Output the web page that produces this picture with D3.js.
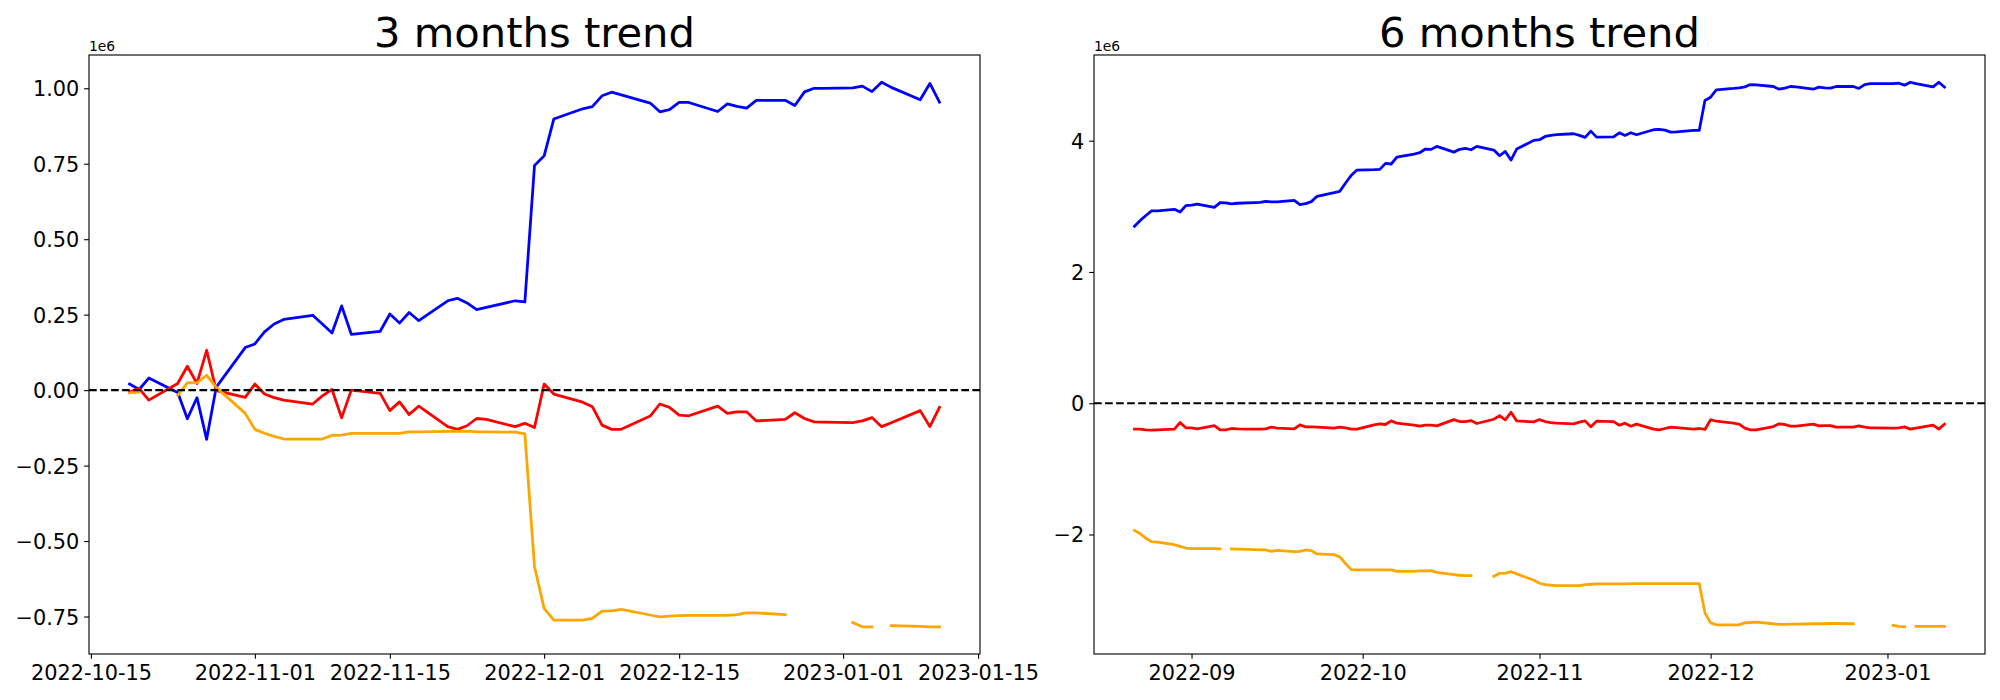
<!DOCTYPE html>
<html><head><meta charset="utf-8">
<script src="https://cdn.jsdelivr.net/npm/d3@7"></script>
<style>body{margin:0;background:#fff}</style>
</head><body><svg id="c" width="2000" height="700"></svg>
<script>
// ---------- DATA (values in units of 1e6) ----------
const titles = ["3 months trend", "6 months trend"];
const seriesColors = ["blue", "red", "orange"];
const offsetLabel = "1e6";

const leftDates = [
 "2022-10-19","2022-10-20","2022-10-21","2022-10-24","2022-10-25","2022-10-26","2022-10-27","2022-10-28","2022-10-31",
 "2022-11-01","2022-11-02","2022-11-03","2022-11-04","2022-11-07","2022-11-08","2022-11-09","2022-11-10","2022-11-11","2022-11-14","2022-11-15","2022-11-16","2022-11-17","2022-11-18","2022-11-21","2022-11-22","2022-11-23","2022-11-24","2022-11-25","2022-11-28","2022-11-29","2022-11-30",
 "2022-12-01","2022-12-02","2022-12-05","2022-12-06","2022-12-07","2022-12-08","2022-12-09","2022-12-12","2022-12-13","2022-12-14","2022-12-15","2022-12-16","2022-12-19","2022-12-20","2022-12-21","2022-12-22","2022-12-23","2022-12-26","2022-12-27","2022-12-28","2022-12-29","2022-12-30",
 "2023-01-02","2023-01-03","2023-01-04","2023-01-05","2023-01-06","2023-01-09","2023-01-10","2023-01-11"];
const leftBlue = [
 0.020,0.002,0.040,-0.008,-0.095,-0.025,-0.163,0.010,0.141,
 0.153,0.193,0.219,0.234,0.248,0.219,0.189,0.279,0.185,0.195,0.252,0.222,0.257,0.230,0.296,0.304,0.289,0.267,0.274,0.296,0.292,0.744,
 0.776,0.898,0.932,0.939,0.975,0.987,0.978,0.951,0.922,0.929,0.953,0.953,0.923,0.948,0.940,0.934,0.960,0.960,0.943,0.988,1.000,1.000,
 1.001,1.007,0.989,1.020,1.003,0.962,1.016,0.954];
const leftRed = [
 -0.006,0.006,-0.033,0.022,0.079,0.022,0.132,-0.002,-0.024,
 0.020,-0.013,-0.025,-0.033,-0.046,-0.019,0.002,-0.092,0.000,-0.011,-0.068,-0.039,-0.081,-0.053,-0.121,-0.130,-0.118,-0.094,-0.097,-0.121,-0.110,-0.124,
 0.020,-0.013,-0.040,-0.055,-0.116,-0.130,-0.130,-0.086,-0.046,-0.057,-0.083,-0.085,-0.053,-0.077,-0.072,-0.072,-0.102,-0.097,-0.075,-0.094,-0.105,-0.106,
 -0.108,-0.102,-0.091,-0.121,-0.108,-0.068,-0.121,-0.057];
const leftOrange = [
 -0.009,-0.007,null,-0.017,0.024,0.025,0.049,0.009,-0.077,
 -0.130,-0.143,-0.153,-0.162,-0.162,-0.162,-0.150,-0.149,-0.143,-0.143,-0.143,-0.143,-0.138,-0.138,-0.137,-0.137,-0.136,-0.138,-0.138,-0.139,-0.145,-0.585,
 -0.723,-0.762,-0.762,-0.756,-0.732,-0.731,-0.726,-0.745,-0.751,-0.749,-0.747,-0.746,-0.746,-0.746,-0.744,-0.738,-0.738,-0.744,null,null,null,null,
 -0.770,-0.784,-0.784,null,-0.780,-0.783,-0.784,-0.784];

const rightDates = [
 "2022-08-22","2022-08-23","2022-08-24","2022-08-25","2022-08-26","2022-08-29","2022-08-30","2022-08-31",
 "2022-09-01","2022-09-02","2022-09-05","2022-09-06","2022-09-07","2022-09-08","2022-09-09","2022-09-12","2022-09-13","2022-09-14","2022-09-15","2022-09-16","2022-09-19","2022-09-20","2022-09-21","2022-09-22","2022-09-23","2022-09-26","2022-09-27","2022-09-28","2022-09-29","2022-09-30",
 "2022-10-03","2022-10-04","2022-10-05","2022-10-06","2022-10-07","2022-10-10","2022-10-11","2022-10-12","2022-10-13","2022-10-14","2022-10-17","2022-10-18","2022-10-19","2022-10-20","2022-10-21","2022-10-24","2022-10-25","2022-10-26","2022-10-27","2022-10-28","2022-10-31",
 "2022-11-01","2022-11-02","2022-11-03","2022-11-04","2022-11-07","2022-11-08","2022-11-09","2022-11-10","2022-11-11","2022-11-14","2022-11-15","2022-11-16","2022-11-17","2022-11-18","2022-11-21","2022-11-22","2022-11-23","2022-11-24","2022-11-25","2022-11-28","2022-11-29","2022-11-30",
 "2022-12-01","2022-12-02","2022-12-05","2022-12-06","2022-12-07","2022-12-08","2022-12-09","2022-12-12","2022-12-13","2022-12-14","2022-12-15","2022-12-16","2022-12-19","2022-12-20","2022-12-21","2022-12-22","2022-12-23","2022-12-26","2022-12-27","2022-12-28","2022-12-29","2022-12-30",
 "2023-01-02","2023-01-03","2023-01-04","2023-01-05","2023-01-06","2023-01-09","2023-01-10","2023-01-11"];
const rightBlue = [
 2.696,2.785,2.860,2.930,2.930,2.955,2.914,3.011,
 3.020,3.035,2.985,3.057,3.052,3.037,3.047,3.057,3.062,3.077,3.067,3.067,3.092,3.026,3.041,3.072,3.153,3.208,3.229,3.355,3.472,3.553,
 3.558,3.563,3.655,3.645,3.751,3.796,3.817,3.873,3.868,3.913,3.826,3.868,3.883,3.862,3.913,3.857,3.771,3.837,3.705,3.873,4.005,
 4.015,4.065,4.081,4.091,4.106,4.081,4.050,4.146,4.055,4.060,4.121,4.081,4.121,4.091,4.167,4.172,4.162,4.131,4.136,4.157,4.157,4.613,
 4.663,4.776,4.796,4.806,4.820,4.856,4.851,4.826,4.785,4.800,4.826,4.820,4.785,4.816,4.806,4.800,4.826,4.826,4.796,4.856,4.870,4.870,
 4.870,4.876,4.846,4.891,4.870,4.820,4.891,4.816];
const rightRed = [
 -0.395,-0.395,-0.405,-0.410,-0.405,-0.395,-0.294,-0.375,
 -0.375,-0.390,-0.340,-0.405,-0.405,-0.385,-0.390,-0.395,-0.395,-0.390,-0.365,-0.380,-0.390,-0.329,-0.360,-0.360,-0.365,-0.380,-0.365,-0.375,-0.395,-0.395,
 -0.329,-0.314,-0.324,-0.269,-0.304,-0.335,-0.350,-0.335,-0.335,-0.345,-0.249,-0.279,-0.279,-0.264,-0.309,-0.244,-0.188,-0.254,-0.137,-0.269,-0.284,
 -0.249,-0.279,-0.294,-0.304,-0.314,-0.289,-0.269,-0.360,-0.274,-0.279,-0.335,-0.304,-0.350,-0.319,-0.395,-0.405,-0.385,-0.365,-0.370,-0.395,-0.385,-0.400,
 -0.249,-0.274,-0.304,-0.319,-0.380,-0.405,-0.405,-0.355,-0.314,-0.324,-0.350,-0.350,-0.319,-0.345,-0.340,-0.340,-0.365,-0.365,-0.345,-0.365,-0.375,-0.375,
 -0.380,-0.375,-0.360,-0.395,-0.380,-0.335,-0.395,-0.319];
const rightOrange = [
 -1.937,-1.988,-2.059,-2.110,-2.115,-2.156,-2.180,-2.206,
 -2.216,-2.216,-2.216,-2.220,null,-2.221,-2.224,-2.231,-2.236,-2.236,-2.256,-2.241,-2.261,-2.256,-2.236,-2.246,-2.297,-2.307,-2.342,-2.444,-2.535,-2.540,
 -2.540,-2.540,-2.540,-2.540,-2.561,-2.561,-2.556,-2.556,-2.551,-2.576,-2.611,-2.621,-2.627,-2.627,null,-2.637,-2.591,-2.591,-2.566,-2.600,-2.698,
 -2.743,-2.763,-2.770,-2.779,-2.779,-2.779,-2.763,-2.758,-2.753,-2.753,-2.753,-2.753,-2.748,-2.748,-2.748,-2.748,-2.748,-2.748,-2.748,-2.748,-2.748,-3.194,
 -3.346,-3.376,-3.376,-3.376,-3.346,-3.341,-3.336,-3.360,-3.371,-3.371,-3.366,-3.366,-3.360,-3.360,-3.360,-3.356,-3.356,-3.360,null,null,null,null,
 -3.386,-3.401,-3.406,null,-3.401,-3.401,-3.401,-3.401];

const leftXTicks = ["2022-10-15","2022-11-01","2022-11-15","2022-12-01","2022-12-15","2023-01-01","2023-01-15"];
const rightXTicks = ["2022-09-01","2022-10-01","2022-11-01","2022-12-01","2023-01-01"];
const leftYTicks = [-0.75,-0.50,-0.25,0.00,0.25,0.50,0.75,1.00];
const rightYTicks = [-2,0,2,4];

// ---------- DRAWING ----------
const FONT = "'DejaVu Sans', sans-serif";
const PT = 100/72;
const svg = d3.select("#c");
svg.append("rect").attr("width",2000).attr("height",700).attr("fill","#fff");
const parse = d3.utcParse("%Y-%m-%d");
const minus = s => s.replace(/-/g, "\u2212");

const panels = [
  {title: titles[0], dates: leftDates, series: [leftBlue, leftRed, leftOrange],
   xTicks: leftXTicks, xFmt: "%Y-%m-%d", yTicks: leftYTicks, yDec: 2,
   box: {x0: 89, x1: 980, y0: 55, y1: 654}},
  {title: titles[1], dates: rightDates, series: [rightBlue, rightRed, rightOrange],
   xTicks: rightXTicks, xFmt: "%Y-%m", yTicks: rightYTicks, yDec: 0,
   box: {x0: 1094, x1: 1985, y0: 55, y1: 654}}
];

panels.forEach(p => {
  const b = p.box;
  const dates = p.dates.map(parse);
  const xe = d3.extent(dates);
  const xr = xe[1] - xe[0];
  const x = d3.scaleUtc().domain([new Date(+xe[0] - 0.05*xr), new Date(+xe[1] + 0.05*xr)]).range([b.x0, b.x1]);
  const allV = p.series.flat().filter(v => v != null);
  const ye = d3.extent(allV);
  const yr = ye[1] - ye[0];
  const y = d3.scaleLinear().domain([ye[0] - 0.05*yr, ye[1] + 0.05*yr]).range([b.y1, b.y0]);

  const g = svg.append("g");

  // series
  p.series.forEach((vals, i) => {
    const pts = dates.map((d, j) => ({d, v: vals[j]}));
    const line = d3.line().defined(q => q.v != null).x(q => x(q.d)).y(q => y(q.v));
    g.append("path").attr("d", line(pts))
      .attr("fill", "none").attr("stroke", seriesColors[i])
      .attr("stroke-width", 2*PT)
      .attr("stroke-linejoin", "round").attr("stroke-linecap", "square");
  });

  // zero dashed line
  g.append("line").attr("x1", b.x0).attr("x2", b.x1).attr("y1", y(0)).attr("y2", y(0))
    .attr("stroke", "black").attr("stroke-width", 1.5*PT)
    .attr("stroke-dasharray", `${5.55*PT},${2.4*PT}`);

  // axes
  const xa = g.append("g").attr("transform", `translate(0,${b.y1})`)
    .call(d3.axisBottom(x).tickValues(p.xTicks.map(parse)).tickFormat(d3.utcFormat(p.xFmt))
      .tickSize(3.5*PT).tickPadding(3.5*PT));
  const ya = g.append("g").attr("transform", `translate(${b.x0},0)`)
    .call(d3.axisLeft(y).tickValues(p.yTicks).tickFormat(v => minus(v.toFixed(p.yDec)))
      .tickSize(3.5*PT).tickPadding(3.5*PT));
  [xa, ya].forEach(a => {
    a.select(".domain").remove();
    a.selectAll(".tick line").attr("stroke", "black").attr("stroke-width", 0.8*PT);
    a.selectAll(".tick text").attr("fill", "black").attr("font-family", FONT).attr("font-size", 15*PT);
  });
  xa.selectAll(".tick text").attr("dy", "0.76em");
  ya.selectAll(".tick text").attr("dy", "0.36em");

  // spines
  g.append("rect").attr("x", b.x0).attr("y", b.y0).attr("width", b.x1 - b.x0).attr("height", b.y1 - b.y0)
    .attr("fill", "none").attr("stroke", "black").attr("stroke-width", 0.8*PT);

  // offset text
  g.append("text").attr("x", b.x0).attr("y", b.y0 - 4.3).attr("font-family", FONT)
    .attr("font-size", 10*PT).attr("fill", "black").text(offsetLabel);

  // title
  g.append("text").attr("x", (b.x0 + b.x1)/2).attr("y", b.y0 - 6*PT).attr("text-anchor", "middle")
    .attr("font-family", FONT).attr("font-size", 30*PT).attr("fill", "black").text(p.title);
});
</script>
</body></html>
